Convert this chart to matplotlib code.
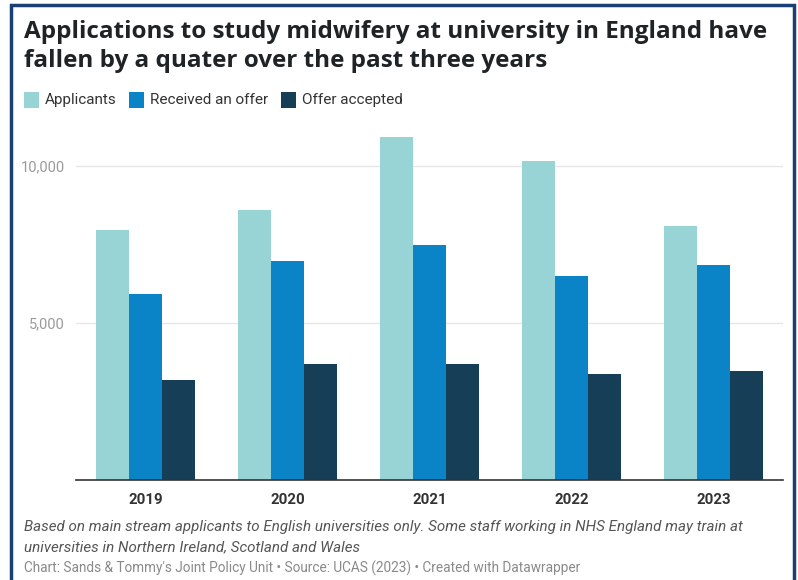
import matplotlib
matplotlib.use("Agg")
import matplotlib.pyplot as plt
from matplotlib.patches import Rectangle
import numpy as np

years = ["2019", "2020", "2021", "2022", "2023"]
applicants = [7960, 8600, 10920, 10160, 8090]
received_offer = [5920, 6970, 7480, 6500, 6850]
offer_accepted = [3180, 3690, 3700, 3380, 3470]
series_names = ["Applicants", "Received an offer", "Offer accepted"]
colors = ["#98d3d6", "#0a84c6", "#163e57"]
yticks = [5000, 10000]
ytick_labels = ["5,000", "10,000"]

W, H = 798, 580
fig = plt.figure(figsize=(W / 100, H / 100), dpi=100)
fig.patch.set_facecolor("white")

def fx(px):
    return px / W

def fy(py):
    return 1 - py / H

# axes: left 76, right 783, bottom 480, top 130
ax = fig.add_axes([fx(76), fy(480), fx(783 - 76), (480 - 130) / H])
ymax = 11150
x = np.arange(len(years))
bw = 0.233
for i, (vals, c) in enumerate(zip([applicants, received_offer, offer_accepted], colors)):
    ax.bar(x + (i - 1) * bw, vals, width=bw, color=c, edgecolor="none", zorder=3)

ax.set_xlim(-0.49, len(years) - 1 + 0.49)
ax.set_ylim(0, ymax)
ax.set_yticks(yticks)
ax.set_yticklabels(ytick_labels, fontsize=10.5, color="#9a9a9a", family="Roboto")
ax.set_xticks(x)
ax.set_xticklabels(years, fontsize=10.8, color="#333333", family="Roboto", fontweight="bold")
ax.tick_params(axis="y", length=0, pad=8)
ax.tick_params(axis="x", length=0, pad=9)
ax.grid(axis="y", color="#e6e6e6", linewidth=1, zorder=0)
for s in ["top", "right", "left"]:
    ax.spines[s].set_visible(False)
ax.spines["bottom"].set_color("#333333")
ax.spines["bottom"].set_linewidth(1.2)
ax.spines["bottom"].set_zorder(4)

# title
fig.text(fx(24), fy(38), "Applications to study midwifery at university in England have",
         fontsize=17.5, fontweight="bold", family="Open Sans", color="#1f2326", va="baseline")
fig.text(fx(24), fy(67), "fallen by a quater over the past three years",
         fontsize=17.5, fontweight="bold", family="Open Sans", color="#1f2326", va="baseline")

# legend
leg_x = [24, 129, 281]
for lx, name, c in zip(leg_x, series_names, colors):
    fig.patches.append(Rectangle((fx(lx), fy(108)), fx(15), 16 / H, transform=fig.transFigure,
                                 facecolor=c, edgecolor="none"))
    fig.text(fx(lx + 21), fy(100), name, fontsize=11, family="Roboto", color="#333333",
             va="center")

# footer
fig.text(fx(24), fy(531), "Based on main stream applicants to English universities only. Some staff working in NHS England may train at",
         fontsize=10.9, style="italic", family="Roboto", color="#555555", va="baseline")
fig.text(fx(24), fy(551), "universities in Northern Ireland, Scotland and Wales",
         fontsize=10.9, style="italic", family="Roboto", color="#555555", va="baseline")
fig.text(fx(24), fy(573), "Chart: Sands & Tommy's Joint Policy Unit \u2022 Source: UCAS (2023) \u2022 Created with Datawrapper",
         fontsize=9.85, family="Roboto", color="#8a8a8a", va="baseline")

# border
fig.patches.append(Rectangle((fx(10.5), fy(600)), fx(794 - 10.5), (600 - 5) / H, transform=fig.transFigure,
                             facecolor="none", edgecolor="#1b3f72", linewidth=2.5))

fig.savefig("out.png", dpi=100, facecolor="white")
